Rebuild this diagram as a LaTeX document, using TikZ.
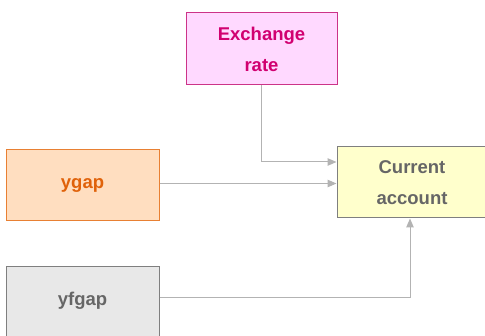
\documentclass[tikz,border=0pt]{standalone}
\usepackage{fontspec}
\setmainfont{Liberation Sans}
\usetikzlibrary{arrows.meta}
\definecolor{exFill}{HTML}{FFD9FF}
\definecolor{exDraw}{HTML}{CC3388}
\definecolor{exText}{HTML}{D10070}
\definecolor{caFill}{HTML}{FFFFCC}
\definecolor{caDraw}{HTML}{7F7F7F}
\definecolor{grText}{HTML}{666666}
\definecolor{ygFill}{HTML}{FFDEC0}
\definecolor{ygDraw}{HTML}{E88033}
\definecolor{ygText}{HTML}{E0620A}
\definecolor{yfFill}{HTML}{E8E8E8}
\definecolor{lineCol}{HTML}{B3B3B3}
\tikzset{
  x=1pt,y=1pt,
  box/.style={rectangle, line width=1pt, inner sep=0pt, align=center,
    font=\fontsize{18.5}{31}\selectfont\bfseries},
  link/.style={draw=lineCol, line width=1pt, -{Triangle[length=9pt,width=7.5pt]}}
}
\begin{document}
\begin{tikzpicture}
\useasboundingbox (0,0) rectangle (485,336);
\clip (0,0) rectangle (485,336);
\node[box, fill=exFill, draw=exDraw, text=exText, minimum width=151, minimum height=72] (ex) at (261.5,287) {Exchange\\rate};
\node[box, fill=caFill, draw=caDraw, text=grText, minimum width=150, minimum height=71] (ca) at (412,153.5) {Current\\account};
\node[box, fill=ygFill, draw=ygDraw, text=ygText, minimum width=153, minimum height=71] (yg) at (82.5,150.5) {ygap};
\node[box, fill=yfFill, draw=caDraw, text=grText, minimum width=153, text height=39, text depth=41, anchor=north] (yf) at (82.5,70) {yfgap};
\coordinate (exturn) at (ex.south |- 0,174);
\coordinate (caA) at (ca.west |- 0,174);
\coordinate (caB) at (ca.west |- 0,152.5);
\coordinate (ygout) at (yg.east |- 0,152.5);
\coordinate (yfout) at (yf.east |- 0,38);
\coordinate (yfturn) at (410,38);
\draw[link] (ex.south) -- (exturn) -- (caA);
\draw[link] (ygout) -- (caB);
\draw[link] (yfout) -- (yfturn) -- (ca.south -| yfturn);
\end{tikzpicture}
\end{document}
